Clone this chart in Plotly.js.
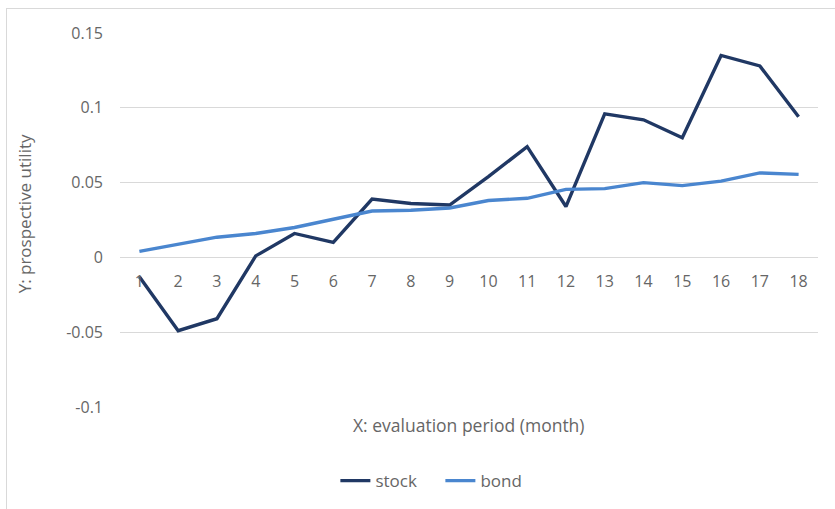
<!DOCTYPE html>
<html>
<head>
<meta charset="utf-8">
<script src="https://cdn.plot.ly/plotly-3.0.1.min.js"></script>
<style>
  html, body { margin: 0; padding: 0; background: #fff; }
  #wrap { position: relative; width: 835px; height: 509px; overflow: hidden; }
  #frame { position: absolute; left: 6px; top: 8px; width: 900px; height: 600px;
           border-left: 1px solid #d9d9d9; border-top: 1px solid #d9d9d9; pointer-events: none; }
  #chart { position: absolute; left: 0; top: 0; width: 835px; height: 509px; }
</style>
</head>
<body>
<div id="wrap">
  <div id="chart"></div>
  <div id="frame"></div>
</div>
<script>
// Evaluation period in months
const months = [1, 2, 3, 4, 5, 6, 7, 8, 9, 10, 11, 12, 13, 14, 15, 16, 17, 18];

// Prospective utility per evaluation period
const stock = [-0.013, -0.049, -0.041, 0.001, 0.016, 0.010, 0.039, 0.036, 0.035,
               0.054, 0.074, 0.034, 0.096, 0.092, 0.080, 0.135, 0.128, 0.094];
const bond  = [0.004, 0.009, 0.0135, 0.016, 0.020, 0.0255, 0.031, 0.0315, 0.033,
               0.038, 0.0395, 0.0455, 0.046, 0.050, 0.048, 0.051, 0.0565, 0.0555];

const yTicks = [-0.1, -0.05, 0, 0.05, 0.1, 0.15];
const yTickText = ['-0.1', '-0.05', '0', '0.05', '0.1', '0.15'];

const FONT = '"Open Sans", Lato, sans-serif';
const GREY = '#666666';

const traces = [
  { x: months, y: stock, name: 'stock', type: 'scatter', mode: 'lines',
    line: { color: '#203864', width: 3.4 } },
  { x: months, y: bond, name: 'bond', type: 'scatter', mode: 'lines',
    line: { color: '#4a86cf', width: 3.4 } }
];

const layout = {
  width: 835, height: 509,
  margin: { l: 120, r: 17, t: 33, b: 102, autoexpand: false },
  paper_bgcolor: 'rgba(0,0,0,0)',
  plot_bgcolor: 'rgba(0,0,0,0)',
  font: { family: FONT, color: GREY, size: 16 },
  showlegend: true,
  legend: {
    orientation: 'h', x: 0.459, xanchor: 'center', y: -0.198, yanchor: 'middle',
    font: { family: FONT, color: GREY, size: 17 },
    entrywidthmode: 'pixels', entrywidth: 60
  },
  xaxis: {
    range: [0.5, 18.5],
    tickvals: months, ticktext: months.map(String),
    anchor: 'free', position: 0.4,
    showgrid: false, zeroline: false, showline: false, automargin: false,
    ticks: '', ticklabelstandoff: 13,
    tickfont: { family: FONT, color: GREY, size: 16 }
  },
  yaxis: {
    range: [-0.1, 0.15],
    tickvals: yTicks, ticktext: yTickText,
    showgrid: true, gridcolor: '#d9d9d9', gridwidth: 1,
    zeroline: false, showline: false, automargin: false,
    ticks: '', ticklabelstandoff: 16,
    tickfont: { family: FONT, color: GREY, size: 16 }
  },
  annotations: [
    { text: 'X: evaluation period (month)', xref: 'paper', yref: 'paper',
      x: 0.5, y: -0.048, xanchor: 'center', yanchor: 'middle', showarrow: false,
      font: { family: FONT, color: GREY, size: 17.5 } },
    { text: 'Y: prospective utility', xref: 'paper', yref: 'paper',
      x: -0.137, y: 0.5, yshift: 6, xanchor: 'center', yanchor: 'middle',
      textangle: -90, showarrow: false,
      font: { family: FONT, color: GREY, size: 17 } }
  ]
};

Plotly.newPlot('chart', traces, layout, { displayModeBar: false, staticPlot: true });
</script>
</body>
</html>
